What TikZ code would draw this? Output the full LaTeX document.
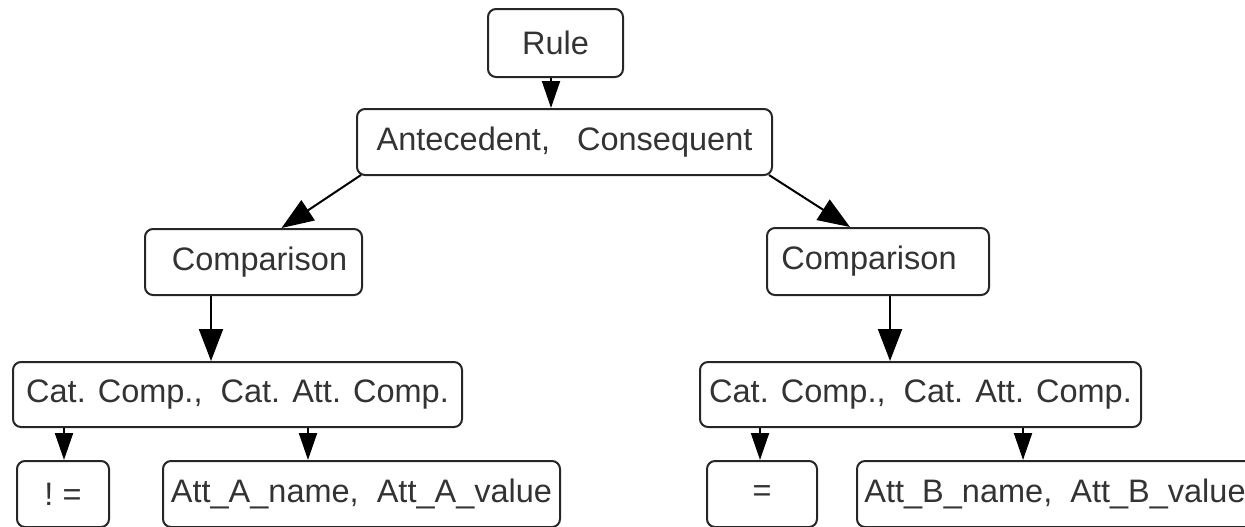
\documentclass[tikz,border=0pt]{standalone}
\usepackage{fontspec}
\setmainfont{Liberation Sans}
\usetikzlibrary{arrows.meta}
\begin{document}
\begin{tikzpicture}[x=0.5pt,y=-0.5pt,
 box/.style={draw=black!85,line width=1pt,rounded corners=4pt,inner sep=1pt,
  font=\fontsize{16.25}{19}\selectfont,text=black!80},
 arr/.style={line width=1pt,-{Triangle[length=16pt,width=12pt]}},
 sarr/.style={line width=1pt,-{Triangle[length=13.5pt,width=9pt]}}]
 \clip (0,0) rectangle (1245,526);
 \node[box,minimum width=67.5pt,minimum height=34pt] (rule) at (555.5,43) {Rule};
 \node[box,minimum width=207.5pt,minimum height=33pt] (ante) at (564.5,142) {Antecedent,\ \ \ Consequent};
 \node[box,minimum width=108.5pt,minimum height=33pt] (cmpA) at (253.5,262) {\hspace*{6pt}Comparison};
 \node[box,minimum width=111pt,minimum height=33.5pt] (cmpB) at (878,261.5) {Comparison\hspace*{9pt}};
 \node[box,minimum width=224.5pt,minimum height=32.5pt] (catA) at (237.5,394.5) {Cat. Comp.,\ \ Cat. Att. Comp.};
 \node[box,minimum width=220.5pt,minimum height=32.5pt] (catB) at (920.5,394.5) {Cat. Comp.,\ \ Cat. Att. Comp.};
 \node[box,minimum width=46pt,minimum height=33pt] (neqA) at (63,494) {!\ =};
 \node[box,minimum width=198.5pt,minimum height=33pt] (attA) at (361.5,494) {Att\_A\_name,\ \ Att\_A\_value};
 \node[box,minimum width=55pt,minimum height=33pt] (eqB) at (762,494) {=};
 \node[box,minimum width=198pt,minimum height=33pt] (attB) at (1055,494) {Att\_B\_name,\ \ Att\_B\_value};
 \draw[sarr] (rule.south -| 551,0) -- (ante.north -| 551,0);
 \draw[arr] ([shift={(5,-1)}]ante.south west) -- ([shift={(28,0)}]cmpA.north);
 \draw[arr] ([shift={(-4,-1)}]ante.south east) -- ([shift={(-28,0)}]cmpB.north);
 \draw[arr] (cmpA.south -| 211,0) -- (catA.north -| 211,0);
 \draw[arr] (cmpB.south -| 890,0) -- (catB.north -| 890,0);
 \draw[sarr] (catA.south -| 64,0) -- (neqA.north -| 64,0);
 \draw[sarr] (catA.south -| 308,0) -- (attA.north -| 308,0);
 \draw[sarr] (catB.south -| 760,0) -- (eqB.north -| 760,0);
 \draw[sarr] (catB.south -| 1023,0) -- (attB.north -| 1023,0);
\end{tikzpicture}
\end{document}
